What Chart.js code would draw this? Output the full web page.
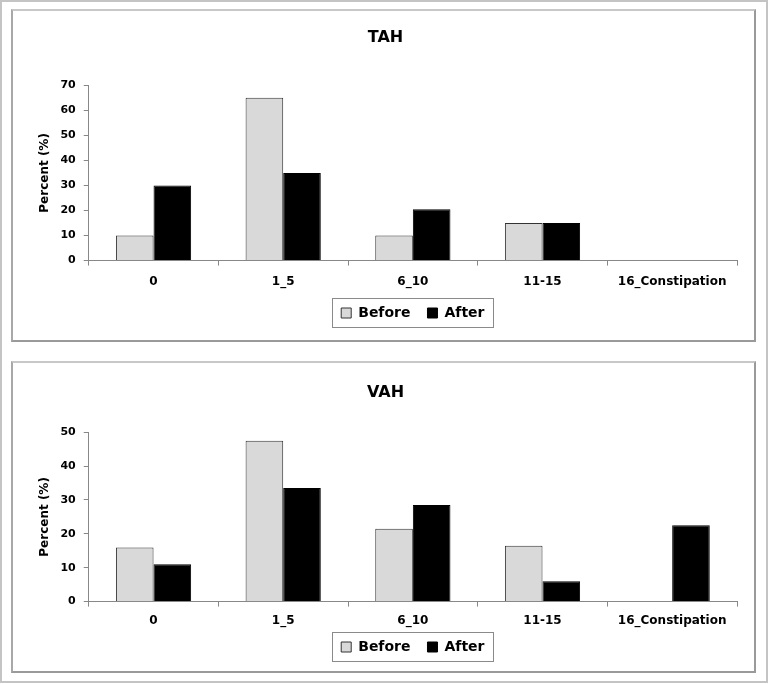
<!DOCTYPE html>
<html>
<head>
<meta charset="utf-8">
<script src="https://cdn.jsdelivr.net/npm/chart.js@4"></script>
<style>
  body { margin: 0; background: #fff; width: 768px; height: 684px; position: relative; overflow: hidden; }
  .frame { position: absolute; left: 0; top: 0; width: 764px; height: 679px; border: 2px solid #c4c4c4; }
  .panel { position: absolute; left: 11px; width: 741px; background: #fff;
           border: 2px solid #9a9a9a; border-top-color: #c8c8c8; border-left-color: #a8a8a8; }
  #p1 { top: 9px; height: 329px; }
  #p2 { top: 361px; height: 308px; }
  canvas { display: block; }
</style>
</head>
<body>
<div class="frame"></div>
<div class="panel" id="p1"><canvas id="tahChart" width="741" height="329"></canvas></div>
<div class="panel" id="p2"><canvas id="vahChart" width="741" height="308"></canvas></div>
<script>
let categories = ['0', '1_5', '6_10', '11-15', '16_Constipation'];
let seriesNames = ['Before', 'After'];

let tahBefore = [10, 65, 10, 15, 0];
let tahAfter = [30, 35, 20.5, 15, 0];
let tahTicks = [0, 10, 20, 30, 40, 50, 60, 70];

let vahBefore = [16, 47.5, 21.5, 16.5, 0];
let vahAfter = [11, 33.5, 28.5, 6, 22.5];
let vahTicks = [0, 10, 20, 30, 40, 50];

const fontFamily = '"DejaVu Sans", Verdana, sans-serif';

// the original legend sits in a thin box
const legendFrame = {
    id: 'legendFrame',
    afterDraw(chart) {
        let boxes = chart.legend.legendHitBoxes;
        if (!boxes || !boxes.length) return;
        let left = Math.min(...boxes.map(b => b.left)) - 9;
        let right = Math.max(...boxes.map(b => b.left + b.width)) + 9;
        let top = Math.min(...boxes.map(b => b.top)) - 8;
        let bottom = Math.max(...boxes.map(b => b.top + b.height)) + 7;
        let ctx = chart.ctx;
        ctx.save();
        ctx.strokeStyle = '#8a8a8a';
        ctx.lineWidth = 1;
        ctx.strokeRect(Math.round(left) + 0.5, Math.round(top) + 0.5, Math.round(right - left), Math.round(bottom - top));
        ctx.restore();
    }
};

function makeChart(id, title, before, after, ticks, pad) {
    let ctx = document.getElementById(id).getContext('2d');
    return new Chart(ctx, {
        type: 'bar',
        data: {
            labels: categories,
            datasets: [{
                label: seriesNames[0],
                data: before,
                backgroundColor: '#d9d9d9',
                borderColor: '#333',
                borderWidth: 1
            }, {
                label: seriesNames[1],
                data: after,
                backgroundColor: '#000',
                borderColor: '#000',
                borderWidth: 1
            }]
        },
        options: {
            responsive: false,
            animation: false,
            layout: { padding: { left: 21, right: 17, top: pad.top, bottom: pad.bottom } },
            categoryPercentage: 0.58,
            barPercentage: 1.0,
            plugins: {
                title: {
                    display: true,
                    text: title,
                    color: '#000',
                    font: { family: fontFamily, size: 16, weight: 'bold' },
                    padding: { top: 0, bottom: pad.title }
                },
                legend: {
                    position: 'bottom',
                    fullSize: false,
                    labels: {
                        color: '#000',
                        boxWidth: 10,
                        boxHeight: 10,
                        padding: 17,
                        font: { family: fontFamily, size: 14, weight: 'bold' }
                    }
                },
                tooltip: { enabled: false }
            },
            scales: {
                x: {
                    // legend padding is wide for the item gap, so pull it up closer to the labels
                    // (and stop the labels being clipped to the smaller axis box)
                    afterFit: scale => {
                        scale.height -= pad.xShrink;
                        scale._computeLabelArea = () => undefined;
                    },
                    grid: { display: true, drawOnChartArea: false, drawTicks: true, tickLength: 5, color: '#888', offset: true },
                    border: { color: '#888' },
                    ticks: { color: '#000', padding: pad.xTick, maxRotation: 0, font: { family: fontFamily, size: 12, weight: 'bold' } }
                },
                y: {
                    min: 0,
                    max: ticks[ticks.length - 1],
                    afterBuildTicks: axis => { axis.ticks = ticks.map(v => ({ value: v })); },
                    grid: { display: true, drawOnChartArea: false, drawTicks: true, tickLength: 5, color: '#888' },
                    border: { color: '#888' },
                    title: {
                        display: true,
                        text: 'Percent (%)',
                        color: '#000',
                        font: { family: fontFamily, size: 12, weight: 'bold' },
                        padding: { top: 4, bottom: 0 }
                    },
                    ticks: { color: '#000', padding: 8, font: { family: fontFamily, size: 11, weight: 'bold' } }
                }
            }
        },
        plugins: [legendFrame]
    });
}

makeChart('tahChart', 'TAH', tahBefore, tahAfter, tahTicks, { top: 17, title: 38, bottom: 10, xShrink: 9, xTick: 9 });
makeChart('vahChart', 'VAH', vahBefore, vahAfter, vahTicks, { top: 20, title: 30, bottom: 7, xShrink: 12, xTick: 7 });
</script>
</body>
</html>
